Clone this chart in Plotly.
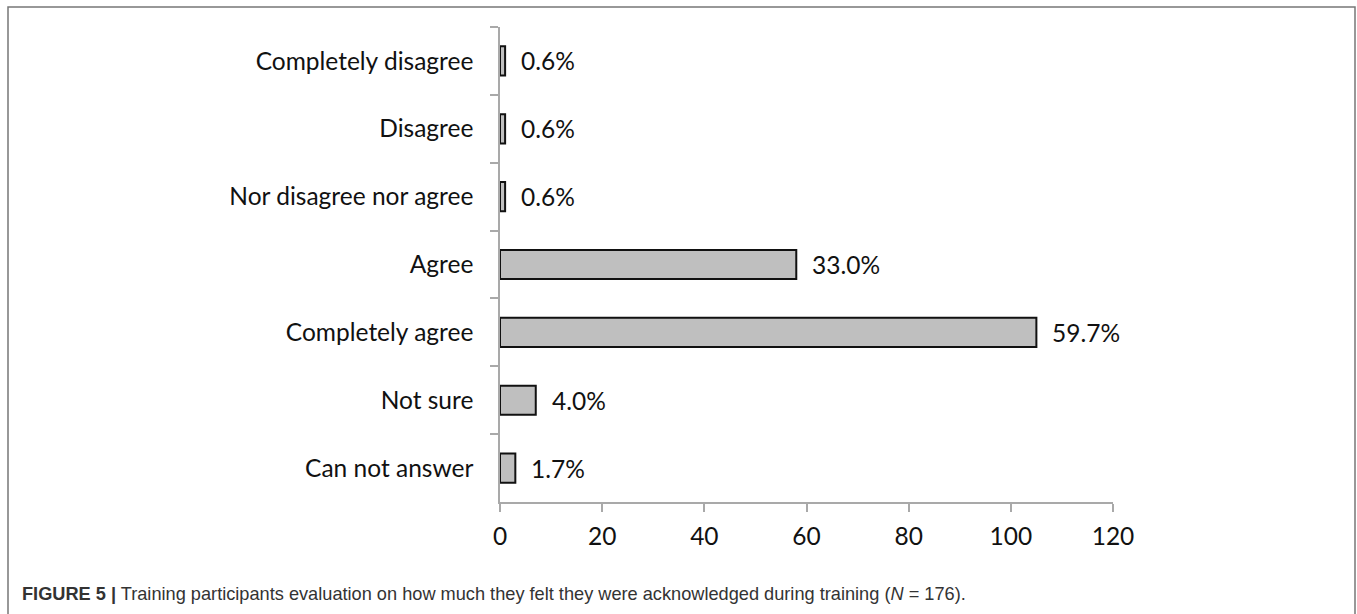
import plotly.graph_objects as go

categories = ["Completely disagree", "Disagree", "Nor disagree nor agree", "Agree",
              "Completely agree", "Not sure", "Can not answer"]
counts = [1, 1, 1, 58, 105, 7, 3]
pct_labels = ["0.6%", "0.6%", "0.6%", "33.0%", "59.7%", "4.0%", "1.7%"]
x_ticks = [0, 20, 40, 60, 80, 100, 120]

FONT = "Lato, Carlito, Calibri, sans-serif"
AXIS_GRAY = "#a9a9a9"
FS = 24.5

fig = go.Figure()
fig.add_trace(go.Bar(
    x=counts, y=categories, orientation="h",
    marker=dict(color="#bfbfbf", line=dict(color="#111111", width=2)),
    width=0.43, hoverinfo="x+y",
))

for v, c, t in zip(counts, categories, pct_labels):
    fig.add_annotation(x=v, y=c, text=t, showarrow=False, xanchor="left",
                       xshift=14, font=dict(family=FONT, size=FS, color="#111111"))

# caption
fig.add_annotation(
    xref="paper", yref="paper", x=-480/613, y=-92/475, xanchor="left", yanchor="middle",
    text="<b>FIGURE 5 |</b> Training participants evaluation on how much they felt they were "
         "acknowledged during training (<i>N</i> = 176).",
    showarrow=False, font=dict(family="Liberation Sans, Arial, sans-serif", size=18.2, color="#333333"),
)

# outer frame
fig.add_shape(type="rect", xref="paper", yref="paper",
              x0=-492/613, x1=855/613, y0=-120/475, y1=(475+20)/475,
              line=dict(color="#777777", width=1.5), fillcolor="rgba(0,0,0,0)", layer="below")

fig.update_layout(
    width=1357, height=614,
    margin=dict(l=500, r=244, t=27, b=112),
    paper_bgcolor="white", plot_bgcolor="white",
    showlegend=False,
    font=dict(family=FONT, size=FS, color="#111111"),
)
fig.update_xaxes(
    range=[0, 120], tickvals=x_ticks, ticktext=[str(v) for v in x_ticks],
    showgrid=False, zeroline=False,
    showline=True, linecolor=AXIS_GRAY, linewidth=1.5,
    ticks="outside", ticklen=8, tickcolor=AXIS_GRAY, tickwidth=1.5,
    ticklabelstandoff=4,
    tickfont=dict(family=FONT, size=FS, color="#111111"),
    fixedrange=True,
)
fig.update_yaxes(
    type="category", categoryorder="array", categoryarray=categories,
    autorange="reversed", tickson="boundaries",
    showgrid=False, zeroline=False,
    showline=True, linecolor=AXIS_GRAY, linewidth=1.5,
    ticks="outside", ticklen=8, tickcolor=AXIS_GRAY, tickwidth=1.5,
    ticklabelstandoff=20,
    tickfont=dict(family=FONT, size=FS, color="#111111"),
    fixedrange=True,
)

fig.write_html("out.html", config={"displayModeBar": False},
               post_script="document.body.style.margin='0px';")
